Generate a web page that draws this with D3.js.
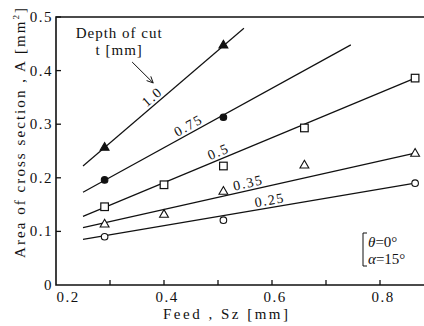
<!DOCTYPE html>
<html>
<head>
<meta charset="utf-8">
<script src="https://cdn.jsdelivr.net/npm/d3@7"></script>
<style>
  body { margin: 0; background: #fff; }
  svg { display: block; }
</style>
</head>
<body>
<script>
// depth of cut t [mm] for each series
const depths = ['1.0', '0.75', '0.5', '0.35', '0.25'];
const markers = ['triFill', 'circleFill', 'square', 'tri', 'circle'];

// measured points: feed Sz [mm] and area A [mm2]
const feeds = [
  [0.29, 0.51],
  [0.29, 0.51],
  [0.29, 0.40, 0.51, 0.66, 0.865],
  [0.29, 0.40, 0.51, 0.66, 0.865],
  [0.29, 0.51, 0.865]
];
const areas = [
  [0.257, 0.448],
  [0.196, 0.313],
  [0.146, 0.187, 0.222, 0.293, 0.386],
  [0.114, 0.132, 0.175, 0.224, 0.246],
  [0.090, 0.121, 0.190]
];

// fitted straight lines: [feed, area] at both ends
const fitStart = [[0.25, 0.222], [0.25, 0.173], [0.25, 0.128], [0.25, 0.107], [0.25, 0.085]];
const fitEnd = [[0.548, 0.479], [0.746, 0.448], [0.865, 0.386], [0.865, 0.246], [0.865, 0.190]];
// where along each line its label sits (feed)
const labelAt = [0.387, 0.452, 0.506, 0.559, 0.598];

const xTicks = [0.2, 0.3, 0.4, 0.5, 0.6, 0.7, 0.8, 0.9];
const xLabels = [0.2, 0.4, 0.6, 0.8];
const yTicks = [0, 0.1, 0.2, 0.3, 0.4, 0.5];

const w = 424, h = 326;

const x = d3.scaleLinear().domain([0.2, 0.9]).range([56, 434]);
const y = d3.scaleLinear().domain([0, 0.5]).range([285, 17]);

const svg = d3.select('body').append('svg')
  .attr('width', w)
  .attr('height', h)
  .attr('font-family', 'Liberation Serif')
  .attr('fill', '#111');

// frame: left, top, bottom
svg.append('path')
  .attr('d', 'M' + w + ',' + y(0.5) + 'H' + x(0.2) + 'V' + y(0) + 'H' + w)
  .attr('fill', 'none')
  .attr('stroke', '#111')
  .attr('stroke-width', 1.6);

// inward ticks
svg.selectAll('.xtick')
  .data(xTicks.slice(1))
  .enter().append('line')
  .attr('x1', d => x(d)).attr('x2', d => x(d))
  .attr('y1', y(0)).attr('y2', y(0) - 5)
  .attr('stroke', '#111').attr('stroke-width', 1.3);

svg.selectAll('.ytick')
  .data(yTicks.slice(1))
  .enter().append('line')
  .attr('x1', x(0.2)).attr('x2', x(0.2) + 5)
  .attr('y1', d => y(d)).attr('y2', d => y(d))
  .attr('stroke', '#111').attr('stroke-width', 1.3);

svg.selectAll('.ylab')
  .data(yTicks)
  .enter().append('text')
  .attr('x', x(0.2) - 3)
  .attr('y', d => y(d) + 5)
  .attr('text-anchor', 'end')
  .attr('font-size', 15)
  .attr('letter-spacing', 1.5)
  .text(d => d === 0 ? '0' : d.toFixed(1));

svg.selectAll('.xlab')
  .data(xLabels)
  .enter().append('text')
  .attr('x', d => x(d) + (d === 0.2 ? 12 : 3))
  .attr('y', y(0) + 17)
  .attr('text-anchor', 'middle')
  .attr('font-size', 15)
  .attr('letter-spacing', 1.5)
  .text(d => d.toFixed(1));

svg.append('text')
  .attr('x', 163)
  .attr('y', 319)
  .attr('textLength', 125)
  .attr('lengthAdjust', 'spacing')
  .attr('font-size', 15)
  .text('Feed , Sz [mm]');

svg.append('text')
  .attr('transform', 'translate(25,258) rotate(-90)')
  .attr('textLength', 250)
  .attr('lengthAdjust', 'spacing')
  .attr('font-size', 15)
  .html('Area of cross section , A [mm<tspan dy="-6" font-size="9">2</tspan><tspan dy="6">]</tspan>');

// fitted lines
depths.forEach((t, i) => {
  const x1 = x(fitStart[i][0]), y1 = y(fitStart[i][1]);
  const x2 = x(fitEnd[i][0]), y2 = y(fitEnd[i][1]);
  svg.append('line')
    .attr('x1', x1).attr('y1', y1).attr('x2', x2).attr('y2', y2)
    .attr('stroke', '#111').attr('stroke-width', 1.2);

  const ang = Math.atan2(y2 - y1, x2 - x1) * 180 / Math.PI;
  const f = (labelAt[i] - fitStart[i][0]) / (fitEnd[i][0] - fitStart[i][0]);
  const lx = x1 + f * (x2 - x1), ly = y1 + f * (y2 - y1);
  svg.append('text')
    .attr('transform', 'translate(' + lx + ',' + ly + ') rotate(' + ang + ')')
    .attr('y', -3)
    .attr('text-anchor', 'middle')
    .attr('font-size', 14)
    .attr('letter-spacing', 1.5)
    .text(t);
});

// markers
const triPath = d3.symbol().type(d3.symbolTriangle).size(34);
depths.forEach((t, i) => {
  const pts = feeds[i].map((f, j) => [f, areas[i][j]]);
  const g = svg.append('g');
  const kind = markers[i];
  if (kind === 'circleFill' || kind === 'circle') {
    g.selectAll('circle').data(pts).enter().append('circle')
      .attr('cx', d => x(d[0])).attr('cy', d => y(d[1]))
      .attr('r', 3.3)
      .attr('fill', kind === 'circle' ? '#fff' : '#111')
      .attr('stroke', '#111').attr('stroke-width', 1.1);
  } else if (kind === 'square') {
    g.selectAll('rect').data(pts).enter().append('rect')
      .attr('x', d => x(d[0]) - 3.8).attr('y', d => y(d[1]) - 3.8)
      .attr('width', 7.6).attr('height', 7.6)
      .attr('fill', '#fff')
      .attr('stroke', '#111').attr('stroke-width', 1.2);
  } else {
    g.selectAll('path').data(pts).enter().append('path')
      .attr('d', triPath)
      .attr('transform', d => 'translate(' + x(d[0]) + ',' + (y(d[1]) + 0.5) + ')')
      .attr('fill', kind === 'tri' ? '#fff' : '#111')
      .attr('stroke', '#111').attr('stroke-width', 1.1);
  }
});

// annotation: depth of cut
svg.append('text')
  .attr('x', x(0.317)).attr('y', y(0.461))
  .attr('text-anchor', 'middle')
  .attr('font-size', 15)
  .attr('letter-spacing', 1)
  .text('Depth of cut');
svg.append('text')
  .attr('x', x(0.317)).attr('y', y(0.43))
  .attr('text-anchor', 'middle')
  .attr('font-size', 15)
  .attr('letter-spacing', 1)
  .text('t [mm]');

const ax1 = x(0.341), ay1 = y(0.416), ax2 = x(0.380), ay2 = y(0.377);
svg.append('line')
  .attr('x1', ax1).attr('y1', ay1).attr('x2', ax2).attr('y2', ay2)
  .attr('stroke', '#111').attr('stroke-width', 1);
const a = Math.atan2(ay2 - ay1, ax2 - ax1);
const head = [a + 2.7, a - 2.7].map(b => [ax2 + 7 * Math.cos(b), ay2 + 7 * Math.sin(b)]);
svg.append('path')
  .attr('d', 'M' + head[0] + 'L' + ax2 + ',' + ay2 + 'L' + head[1])
  .attr('fill', 'none')
  .attr('stroke', '#111').attr('stroke-width', 1);

// cutting conditions
const bx = 363, by1 = 233, by2 = 266;
svg.append('path')
  .attr('d', 'M' + (bx + 4) + ',' + by1 + 'H' + bx + 'V' + by2 + 'H' + (bx + 4))
  .attr('fill', 'none')
  .attr('stroke', '#111').attr('stroke-width', 1);
svg.append('text')
  .attr('x', 368).attr('y', 247)
  .attr('font-size', 15)
  .html('<tspan font-style="italic">θ</tspan>=0°');
svg.append('text')
  .attr('x', 368).attr('y', 264)
  .attr('font-size', 15)
  .html('<tspan font-style="italic">α</tspan>=15°');
</script>
</body>
</html>
